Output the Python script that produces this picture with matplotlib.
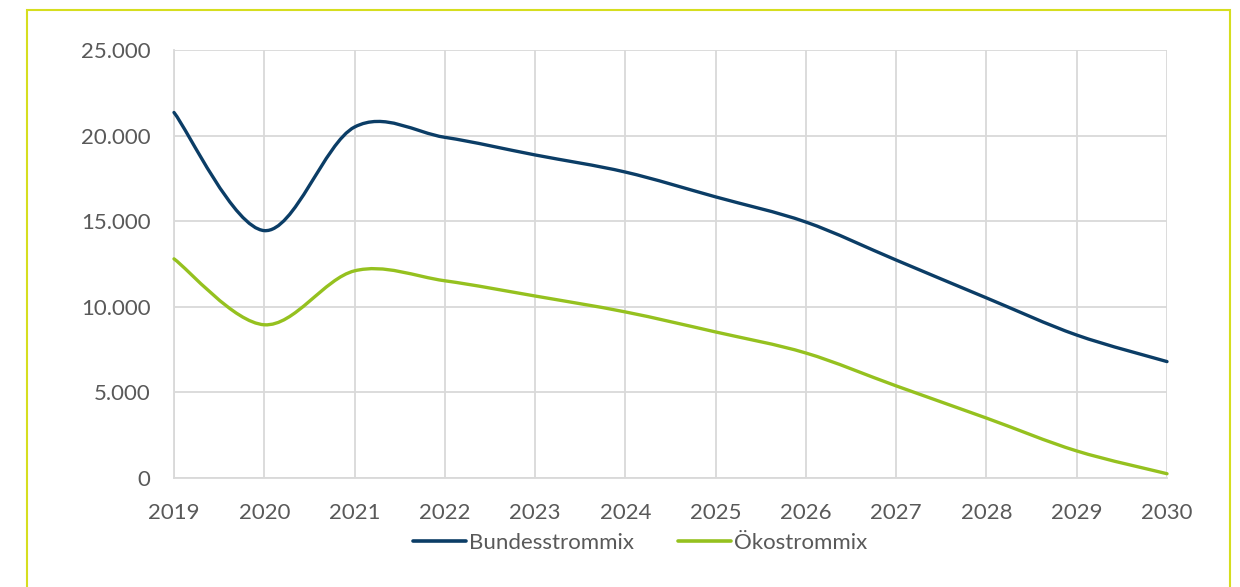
import matplotlib
matplotlib.use("Agg")
import matplotlib.pyplot as plt
from matplotlib.path import Path
from matplotlib.patches import PathPatch, Rectangle
from matplotlib.lines import Line2D
from matplotlib.ticker import FuncFormatter

years = [2019, 2020, 2021, 2022, 2023, 2024, 2025, 2026, 2027, 2028, 2029, 2030]
bundesstrommix = [21350, 14450, 20500, 19900, 18870, 17870, 16420, 14950, 12730, 10520, 8350, 6800]
oekostrommix = [12800, 8950, 12100, 11520, 10630, 9700, 8530, 7300, 5380, 3500, 1580, 250]
series_names = ["Bundesstrommix", "Ökostrommix"]
colors = ["#0b3d66", "#95c11f"]
yticks = [0, 5000, 10000, 15000, 20000, 25000]

plt.rcParams['font.family'] = ['Lato', 'DejaVu Sans']

fig = plt.figure(figsize=(12.4, 5.87), dpi=100)
fig.patches.append(Rectangle((27/1240, -0.05), (1230-27)/1240, 1.05 - 10/587,
                             transform=fig.transFigure, fill=False,
                             edgecolor="#d6de1f", linewidth=1.5))
ax = fig.add_axes([174/1240, 1-478/587, (1167-174)/1240, (478-50)/587])


def smooth_path(xs, ys):
    pts = list(zip(xs, ys))
    verts = [pts[0]]
    codes = [Path.MOVETO]
    n = len(pts)
    for i in range(n - 1):
        p0 = pts[i - 1] if i > 0 else pts[i]
        p1 = pts[i]
        p2 = pts[i + 1]
        p3 = pts[i + 2] if i + 2 < n else pts[i + 1]
        c1 = (p1[0] + (p2[0] - p0[0]) / 6, p1[1] + (p2[1] - p0[1]) / 6)
        c2 = (p2[0] - (p3[0] - p1[0]) / 6, p2[1] - (p3[1] - p1[1]) / 6)
        verts += [c1, c2, p2]
        codes += [Path.CURVE4] * 3
    return Path(verts, codes)


for vals, c in zip([bundesstrommix, oekostrommix], colors):
    ax.add_patch(PathPatch(smooth_path(years, vals), fill=False, edgecolor=c,
                           linewidth=2.4, capstyle='round', zorder=3, clip_on=False))

ax.set_xlim(2019, 2030)
ax.set_ylim(0, 25000)
ax.set_xticks(years)
ax.set_yticks(yticks)
ax.yaxis.set_major_formatter(FuncFormatter(lambda v, p: f"{int(v):,}".replace(",", ".")))
ax.grid(True, color="#d9d9d9", linewidth=1.3)
ax.set_axisbelow(True)
for s in ["top", "right"]:
    ax.spines[s].set_visible(False)
for s in ["left", "bottom"]:
    ax.spines[s].set_color("#d9d9d9")
    ax.spines[s].set_linewidth(1.3)
ax.tick_params(axis='both', length=0, labelsize=16, colors="#595959")
ax.tick_params(axis='x', pad=18)
ax.tick_params(axis='y', pad=17)

handles = [Line2D([0], [0], color=c, linewidth=2.6, solid_capstyle='round') for c in colors]
fig.legend(handles, series_names, loc='center', bbox_to_anchor=(640/1240, 1-543/587),
           ncol=2, frameon=False, fontsize=16, labelcolor="#595959",
           handlelength=2.4, handletextpad=0.1, columnspacing=2.0)

fig.savefig("out.png", dpi=100, facecolor="white")
